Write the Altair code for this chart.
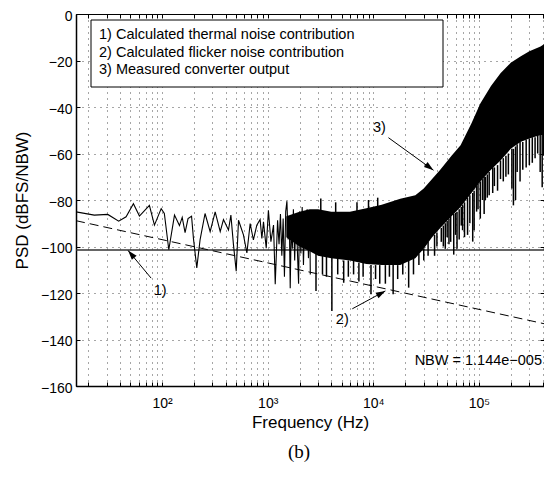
import altair as alt
import pandas as pd

# ---------------- data ----------------
# resolved part of the measured converter output (low frequencies)
low_freq = [15.3, 22.8, 30.6, 38.8, 45.6, 53.5, 61.0, 75.8, 84.6, 98, 105, 115.7,
            131, 146, 155, 165, 176, 190, 198, 213, 229, 255, 285, 318, 355, 381,
            425, 448, 474, 503, 529, 589, 635, 682, 732, 788, 847, 880, 912, 968,
            1015, 1072, 1135, 1178, 1240, 1280, 1320, 1360, 1400, 1440, 1480, 1520,
            1560, 1600, 1633, 1670, 1710, 1750, 1800, 1850, 1900, 1960, 2000, 2060,
            2120, 2180, 2240, 2300, 2360, 2430, 2500, 2530]
low_psd = [-85.1, -86.5, -86.2, -89.1, -87.2, -81.6, -86.9, -82.3, -90.8, -83.7, -85.8, -101.4,
           -86.5, -91.0, -87.5, -94.0, -88.0, -87.0, -96.5, -109.2, -97.0, -85.8, -93.6, -85.1,
           -93.6, -88.4, -92.9, -86.5, -99.3, -110.6, -88.7, -95.0, -102.8, -90.1, -97.2, -90.8,
           -88.4, -96.5, -89.4, -100.7, -84.4, -97.9, -90.8, -116.2, -88.7, -99.0, -86.0,
           -104.0, -88.0, -113.0, -85.0, -80.5, -97.0, -87.0, -118.0, -90.0, -101.0, -84.0,
           -106.0, -86.0, -99.0, -116.0, -85.0, -103.0, -83.0, -108.0, -86.0, -100.0, -84.0,
           -105.0, -87.0, -112.0]

# dense part of the measured output: upper and lower edge of the black band
band_freq = [1500, 2000, 2500, 3000, 4000, 6000, 8600, 12000, 18000, 25000,
             30000, 36000, 43000, 55000, 67000, 85000, 103000, 130000, 160000,
             200000, 247000, 300000, 383000, 413000]
band_upper = [-87.0, -85.0, -84.0, -84.0, -85.0, -85.0, -83.5, -82.0, -79.5, -78.0,
              -75.0, -71.0, -67.0, -61.0, -56.5, -47.0, -38.5, -31.0, -25.5,
              -21.0, -18.3, -16.0, -14.0, -13.0]
band_lower = [-96.0, -100.0, -102.0, -104.0, -105.0, -106.0, -107.5, -108.0, -108.0, -105.0,
              -101.0, -96.0, -92.0, -87.0, -83.0, -77.0, -72.0, -67.0, -63.0,
              -58.0, -55.0, -53.5, -52.0, -52.0]

# individual spikes of the measured output (from band edge to tip)
spike_freq = [2865, 3180, 3300, 3600, 4050, 4400, 4600, 5240, 5800, 6500, 7000, 7300, 8000,
              9000, 9500, 10500, 11000, 11500, 13000, 14200, 15400, 17000, 19000, 21600,
              24000, 27000, 30000, 33000, 38000, 40000, 44000, 46000, 48000, 50000, 52000,
              54000, 57700, 60000, 62000, 65000, 68000, 70000, 73000, 78000, 82000, 87300,
              90000, 95000, 98000, 103000, 108000, 112000, 115000, 120000, 125000, 135000,
              140000, 150000, 160000, 170000, 180000, 190000, 205000, 212000, 222000,
              230000, 245000, 260000, 280000, 300000, 320000, 340000, 360000, 380000,
              397000, 410000]
spike_tip = [-119.1, -79.4, -112.0, -113.0, -127.7, -81.0, -112.0, -115.6, -113.0, -112.0,
             -81.0, -115.0, -113.0, -80.0, -120.5, -114.0, -79.0, -116.0, -116.0, -113.0,
             -120.5, -114.0, -112.0, -117.7, -112.0, -108.0, -106.0, -104.0, -104.0, -100.0,
             -98.0, -100.0, -101.0, -96.0, -99.0, -98.0, -103.5, -95.0, -101.0, -97.0, -91.0,
             -93.0, -96.0, -95.0, -90.0, -97.9, -93.0, -85.0, -84.0, -88.0, -80.0, -86.0,
             -80.0, -79.0, -78.0, -77.0, -74.0, -76.0, -71.0, -72.0, -70.0, -69.0, -75.0,
             -82.3, -80.0, -68.0, -72.0, -67.0, -66.0, -65.0, -64.0, -62.0, -60.0, -68.0,
             -74.5, -61.0]
spike_base = [-103.0, -85.0, -104.0, -104.0, -105.0, -86.0, -105.0, -106.0, -106.0, -106.0,
              -86.0, -107.0, -107.0, -85.0, -108.0, -108.0, -84.0, -108.0, -108.0, -108.0,
              -108.0, -108.0, -107.0, -106.0, -105.0, -103.0, -101.0, -98.0, -95.0, -94.0,
              -92.0, -91.0, -90.0, -89.0, -88.0, -87.0, -86.0, -85.5, -85.0, -84.0, -83.0,
              -82.0, -81.0, -79.0, -78.0, -77.0, -76.0, -74.0, -73.0, -72.0, -71.0, -70.0,
              -70.0, -69.0, -68.0, -66.0, -66.0, -65.0, -63.0, -62.0, -61.0, -60.0, -58.0,
              -58.0, -57.0, -56.0, -55.0, -55.0, -54.0, -53.5, -53.0, -53.0, -52.0, -52.0,
              -52.0, -52.0]

# calculated contributions
thermal_freq = [15.3, 413000]
thermal_psd = [-101.5, -101.5]
flicker_freq = [15.3, 413000]
flicker_psd = [-88.9, -133.2]

# annotations "1)", "2)", "3)" and their arrows
ann_text = ["1)", "2)", "3)"]
ann_freq = [95.7, 5080, 11400]
ann_psd = [-119.1, -131.5, -48.9]
arrow_tail_freq = [78.7, 6320, 13900]
arrow_tail_psd = [-113.6, -126.8, -53.2]
arrow_tip_freq = [47.6, 13000, 37100]
arrow_tip_psd = [-101.7, -119.1, -67.2]
arrow_angle = [319.6, 61.4, 126.3]

legend_lines = ["1) Calculated thermal noise contribution",
                "2) Calculated flicker noise contribution",
                "3) Measured converter output"]
nbw_text = "NBW = 1.144e\u2212005"
caption = "(b)"

x_domain = [15.3, 413000]
y_domain = [-160, 0]
x_tick_values = [20, 30, 40, 50, 60, 70, 80, 90,
                 100, 200, 300, 400, 500, 600, 700, 800, 900,
                 1000, 2000, 3000, 4000, 5000, 6000, 7000, 8000, 9000,
                 10000, 20000, 30000, 40000, 50000, 60000, 70000, 80000, 90000,
                 100000, 200000, 300000, 400000]
y_tick_values = [-160, -140, -120, -100, -80, -60, -40, -20, 0]

# ---------------- tables ----------------
low_df = pd.DataFrame({"f": low_freq, "p": low_psd})
band_df = pd.DataFrame({"f": band_freq, "hi": band_upper, "lo": band_lower})
spike_df = pd.DataFrame({"f": spike_freq, "tip": spike_tip, "base": spike_base})
thermal_df = pd.DataFrame({"f": thermal_freq, "p": thermal_psd})
flicker_df = pd.DataFrame({"f": flicker_freq, "p": flicker_psd})
ann_df = pd.DataFrame({"t": ann_text, "f": ann_freq, "p": ann_psd})
arrow_df = pd.DataFrame({"f1": arrow_tail_freq, "p1": arrow_tail_psd,
                         "f2": arrow_tip_freq, "p2": arrow_tip_psd, "a": arrow_angle})
one = pd.DataFrame({"k": [0]})

FONT = "Liberation Sans"
xs = alt.Scale(type="log", domain=x_domain, nice=False)
ys = alt.Scale(domain=y_domain, nice=False)

label_expr = ("datum.value == 100 ? '10\u00b2' : datum.value == 1000 ? '10\u00b3' : "
              "datum.value == 10000 ? '10\u2074' : datum.value == 100000 ? '10\u2075' : ''")

main_x_axis = alt.Axis(values=x_tick_values, labelExpr=label_expr, title="Frequency (Hz)",
                       grid=True, gridDash=[1, 5], gridColor="#000", gridOpacity=0.7,
                       ticks=False, domain=True, domainColor="black", domainWidth=1.5,
                       labelFont=FONT, labelFontSize=14, labelColor="black", labelPadding=10,
                       labelOverlap=False, labelFlush=False,
                       titleFont=FONT, titleFontSize=17, titleFontWeight="normal",
                       titleColor="black", titlePadding=4)
main_y_axis = alt.Axis(values=y_tick_values, title="PSD (dBFS/NBW)",
                       grid=True, gridDash=[1, 5], gridColor="#000", gridOpacity=0.7,
                       ticks=False, domain=True, domainColor="black", domainWidth=1.5,
                       labelFont=FONT, labelFontSize=14, labelColor="black", labelPadding=4,
                       labelOffset=2, labelFlush=False,
                       titleFont=FONT, titleFontSize=17, titleFontWeight="normal",
                       titleColor="black", titlePadding=9)


def tick_axis(orient, vals):
    return alt.Axis(orient=orient, values=vals, offset=-4, labels=False, title=None,
                    grid=False, domain=False, ticks=True, tickSize=4,
                    tickColor="black", tickWidth=1)


# thermal line carries the main axes
thermal = alt.Chart(thermal_df).mark_line(color="#333", strokeWidth=1.3, clip=True).encode(
    x=alt.X("f:Q", scale=xs, axis=main_x_axis),
    y=alt.Y("p:Q", scale=ys, axis=main_y_axis))

# flicker line carries inward ticks bottom/left
flicker = alt.Chart(flicker_df).mark_line(color="black", strokeWidth=1, strokeDash=[9, 5],
                                          clip=True).encode(
    x=alt.X("f:Q", scale=xs, axis=tick_axis("bottom", x_tick_values)),
    y=alt.Y("p:Q", scale=ys, axis=tick_axis("left", y_tick_values)))

# measured line carries inward ticks top/right
low = alt.Chart(low_df).mark_line(color="black", strokeWidth=1.1, clip=True).encode(
    x=alt.X("f:Q", scale=xs, axis=tick_axis("top", x_tick_values)),
    y=alt.Y("p:Q", scale=ys, axis=tick_axis("right", y_tick_values)))

band = alt.Chart(band_df).mark_area(color="black", opacity=1, clip=True).encode(
    x=alt.X("f:Q", scale=xs, axis=None),
    y=alt.Y("hi:Q", scale=ys, axis=None),
    y2="lo:Q")

spikes = alt.Chart(spike_df).mark_rule(color="black", strokeWidth=1.5, clip=True).encode(
    x=alt.X("f:Q", scale=xs, axis=None),
    y=alt.Y("tip:Q", scale=ys, axis=None),
    y2="base:Q")

legend_box = alt.Chart(one).mark_rect(fill="white", stroke="black", strokeWidth=1).encode(
    x=alt.value(15), x2=alt.value(367), y=alt.value(6), y2=alt.value(73))
legend_txt = alt.Chart(one).mark_text(text=legend_lines, align="left", baseline="middle",
                                      lineHeight=17.5, font=FONT, fontSize=14.5,
                                      color="black").encode(
    x=alt.value(23), y=alt.value(21))

ann = alt.Chart(ann_df).mark_text(font=FONT, fontSize=14.5, color="black").encode(
    x=alt.X("f:Q", scale=xs, axis=None),
    y=alt.Y("p:Q", scale=ys, axis=None),
    text="t:N")

shafts = alt.Chart(arrow_df).mark_rule(color="black", strokeWidth=1).encode(
    x=alt.X("f1:Q", scale=xs, axis=None), x2="f2:Q",
    y=alt.Y("p1:Q", scale=ys, axis=None), y2="p2:Q")

heads = alt.Chart(arrow_df).mark_point(shape="M0,0 L-0.36,1.1 L0.36,1.1 Z", size=300,
                                       filled=True, color="black", opacity=1).encode(
    x=alt.X("f2:Q", scale=xs, axis=None),
    y=alt.Y("p2:Q", scale=ys, axis=None),
    angle=alt.Angle("a:Q", scale=None))

nbw = alt.Chart(one).mark_text(text=nbw_text, align="right", baseline="middle",
                               font=FONT, fontSize=14.5, color="black").encode(
    x=alt.value(466), y=alt.value(347))

cap = alt.Chart(one).mark_text(text=caption, align="center", baseline="middle",
                               font="Liberation Serif", fontSize=19, color="black").encode(
    x=alt.value(223), y=alt.value(438))

chart = alt.layer(
    thermal, flicker, band, spikes, low, legend_box, legend_txt, ann, shafts, heads, nbw, cap
).resolve_axis(x="independent", y="independent").properties(
    width=468, height=372,
    autosize=alt.AutoSizeParams(type="none"),
    padding={"left": 68, "top": 6, "right": 0, "bottom": 78},
    background="white",
).configure_view(stroke="black", strokeWidth=1)

chart.save("out.html", embed_options={"renderer": "svg", "actions": False})
